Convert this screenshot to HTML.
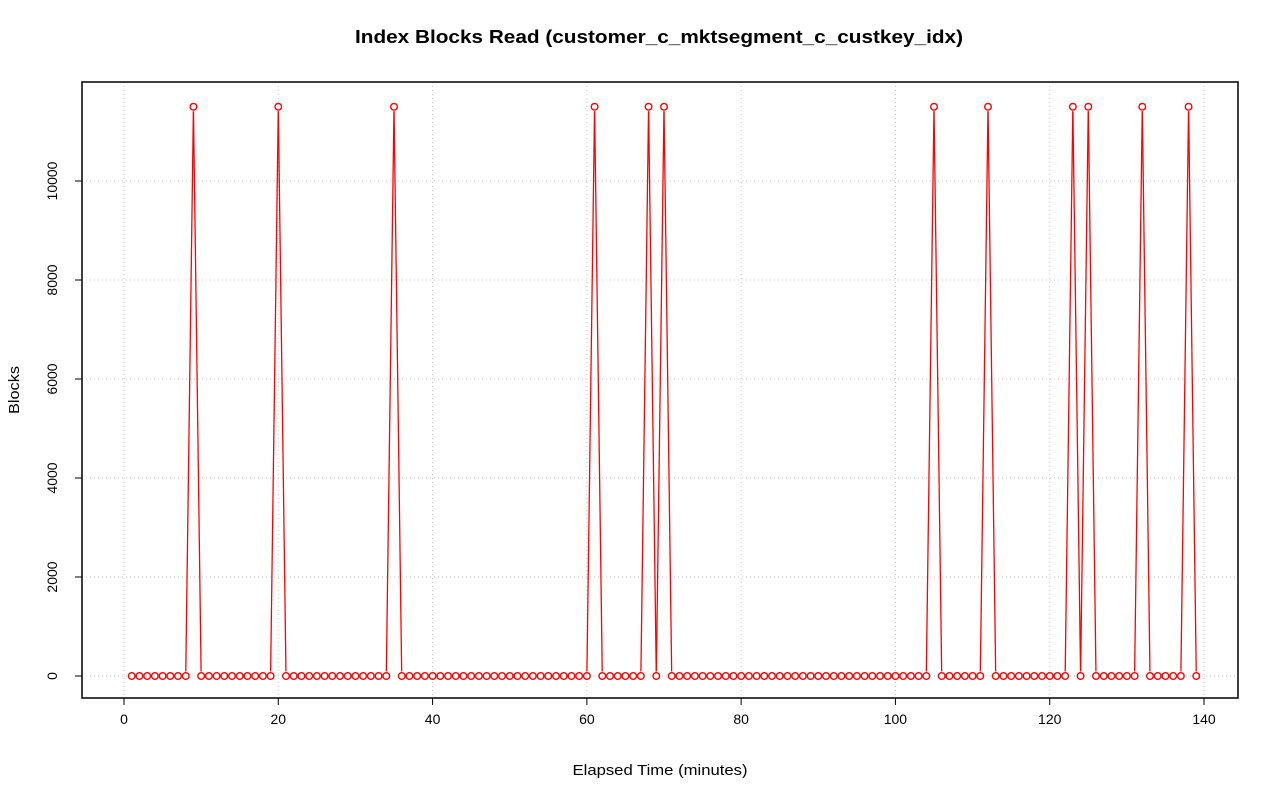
<!DOCTYPE html>
<html><head><meta charset="utf-8"><style>
html,body{margin:0;padding:0;background:#fff;}
svg{display:block;font-family:"Liberation Sans",sans-serif;}
</style></head><body>
<svg id="chart" width="1280" height="801" viewBox="0 0 1280 801">
<text x="659" y="43" text-anchor="middle" font-size="18" font-weight="bold" textLength="608" lengthAdjust="spacingAndGlyphs">Index Blocks Read (customer_c_mktsegment_c_custkey_idx)</text>
<g id="grid"></g>
<g id="axes"></g>
<g id="series"></g>
<rect x="82" y="82" width="1156" height="616" fill="none" stroke="#000" stroke-width="1.5"/>
<text x="660" y="775" text-anchor="middle" font-size="15" textLength="175" lengthAdjust="spacingAndGlyphs">Elapsed Time (minutes)</text>
<text transform="translate(19,390) rotate(-90)" text-anchor="middle" font-size="15" textLength="48" lengthAdjust="spacingAndGlyphs">Blocks</text>
</svg>
<script>
const peakMinutes = [9,20,35,61,68,70,105,112,123,125,132,138];
const peakValue = 11500;
const minutes = [];
for (let m = 1; m <= 139; m++) minutes.push(m);
const blocks = minutes.map(m => peakMinutes.includes(m) ? peakValue : 0);
const xTicks = [0,20,40,60,80,100,120,140];
const yTicks = [0,2000,4000,6000,8000,10000];

const NS = "http://www.w3.org/2000/svg";
const xs = v => 124 + v * (1204 - 124) / 140;
const ys = v => 676 - v * (676 - 181) / 10000;
function mk(tag, attrs, parent) {
  const e = document.createElementNS(NS, tag);
  for (const k in attrs) e.setAttribute(k, attrs[k]);
  parent.appendChild(e);
  return e;
}
const grid = document.getElementById('grid');
const axes = document.getElementById('axes');
const series = document.getElementById('series');

xTicks.forEach(t => {
  const g = mk('line', {x1: xs(t), x2: xs(t), y1: 82, y2: 698, stroke: '#c8c8c8', 'stroke-dasharray': '1,3'}, grid);
  
  
  const tk = mk('line', {x1: xs(t), x2: xs(t), y1: 698, y2: 705, stroke: '#000'}, axes);
  
  
  const lb = mk('text', {x: xs(t), y: 724, 'text-anchor': 'middle', 'font-size': 14}, axes);
  lb.textContent = t;
  
  
});
yTicks.forEach(t => {
  const g = mk('line', {x1: 82, x2: 1238, y1: ys(t), y2: ys(t), stroke: '#c8c8c8', 'stroke-dasharray': '1,3'}, grid);
  
  
  const tk = mk('line', {x1: 75, x2: 82, y1: ys(t), y2: ys(t), stroke: '#000'}, axes);
  
  
  const lb = mk('text', {transform: `translate(57,${ys(t)}) rotate(-90)`, 'text-anchor': 'middle', 'font-size': 14}, axes);
  lb.textContent = t;
  
  
});

const gap = 4.5;
for (let i = 0; i < minutes.length - 1; i++) {
  const x1 = xs(minutes[i]), y1 = ys(blocks[i]), x2 = xs(minutes[i+1]), y2 = ys(blocks[i+1]);
  const dx = x2 - x1, dy = y2 - y1, L = Math.hypot(dx, dy);
  if (L <= 2 * gap) continue;
  const ux = dx / L, uy = dy / L;
  const s = mk('line', {x1: x1 + ux*gap, y1: y1 + uy*gap, x2: x2 - ux*gap, y2: y2 - uy*gap, stroke: '#f00', 'stroke-width': 1.3}, series);
  
  
}
minutes.forEach((m, i) => {
  const c = mk('circle', {cx: xs(m), cy: ys(blocks[i]), r: 3.3, fill: 'none', stroke: '#f00', 'stroke-width': 1.4}, series);
  
  
});
</script>
</body></html>
